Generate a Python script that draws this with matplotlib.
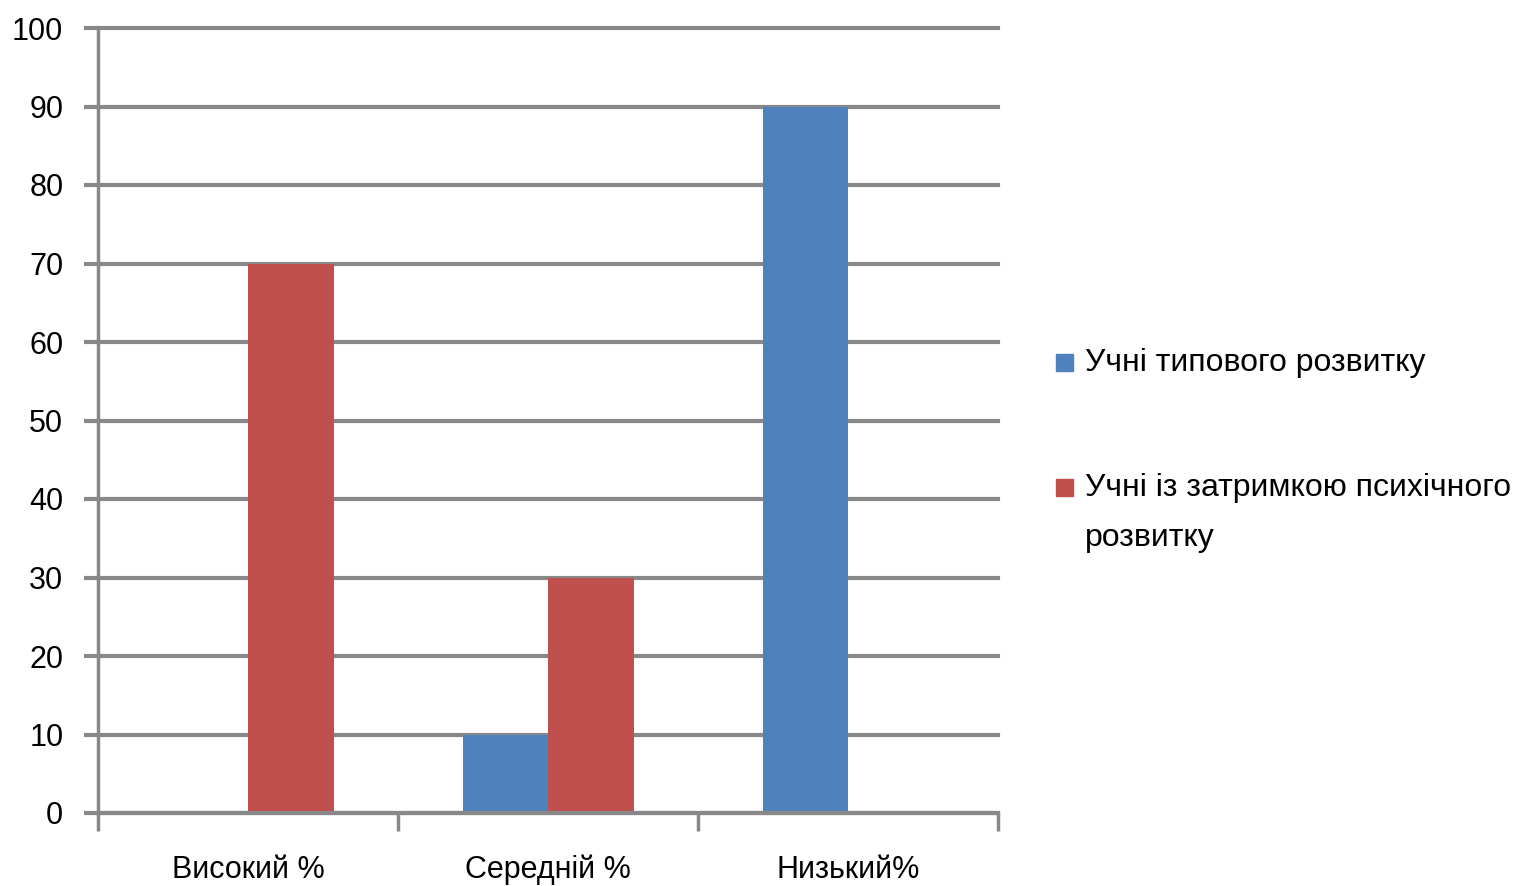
import numpy as np
import matplotlib.pyplot as plt
from matplotlib.patches import Rectangle

categories = ["Високий %", "Середній %", "Низький%"]
typical = [0, 10, 90]
delayed = [70, 30, 0]
series_names = ["Учні типового розвитку", "Учні із затримкою психічного\nрозвитку"]
y_ticks = list(range(0, 101, 10))

plt.rcParams["font.family"] = ["Liberation Sans", "DejaVu Sans"]

color_blue = "#4F81BD"
color_red = "#C0504D"
grid_color = "#888888"
W, H = 1533, 886

fig = plt.figure(figsize=(W / 100, H / 100), dpi=100)
ax = fig.add_axes([98 / W, 1 - 813 / H, 900 / W, 785 / H])

x = np.arange(len(categories))
width = 0.285
ax.bar(x - width / 2, typical, width, color=color_blue, zorder=3)
ax.bar(x + width / 2, delayed, width, color=color_red, zorder=3)

ax.set_xlim(-0.5, 2.5)
ax.set_ylim(0, 100)
ax.set_yticks(y_ticks)
ax.set_yticklabels([str(v) for v in y_ticks], fontsize=22)
ax.yaxis.grid(True, color=grid_color, linewidth=3, zorder=0)
ax.set_axisbelow(True)
for gl in ax.get_ygridlines():
    gl.set_clip_on(False)

# category labels in the middle, tick marks on the group borders
ax.set_xticks(x)
ax.set_xticklabels(categories, fontsize=22)
ax.tick_params(axis="x", length=0, pad=30)
ax.set_xticks([-0.5, 0.5, 1.5, 2.5], minor=True)
ax.tick_params(axis="x", which="minor", length=13, width=2.5, color=grid_color)
ax.tick_params(axis="y", length=10, width=3, color=grid_color, pad=15)

for side in ["top", "right", "bottom"]:
    ax.spines[side].set_visible(False)
ax.spines["left"].set_color(grid_color)
ax.spines["left"].set_linewidth(2.5)
ax.axhline(0, color=grid_color, linewidth=3, zorder=4, clip_on=False)

# legend drawn by hand so the wrapped label keeps its square on the first line
legend_colors = [color_blue, color_red]
legend_y = [362, 487]
for name, col, ly in zip(series_names, legend_colors, legend_y):
    fig.patches.append(Rectangle((1056 / W, 1 - (ly + 9) / H), 17 / W, 17 / H,
                                 transform=fig.transFigure, color=col))
    fig.text(1085 / W, 1 - (ly - 14) / H, name, fontsize=23, va="top", ha="left",
             linespacing=1.85)

fig.savefig("out.png", dpi=100)
